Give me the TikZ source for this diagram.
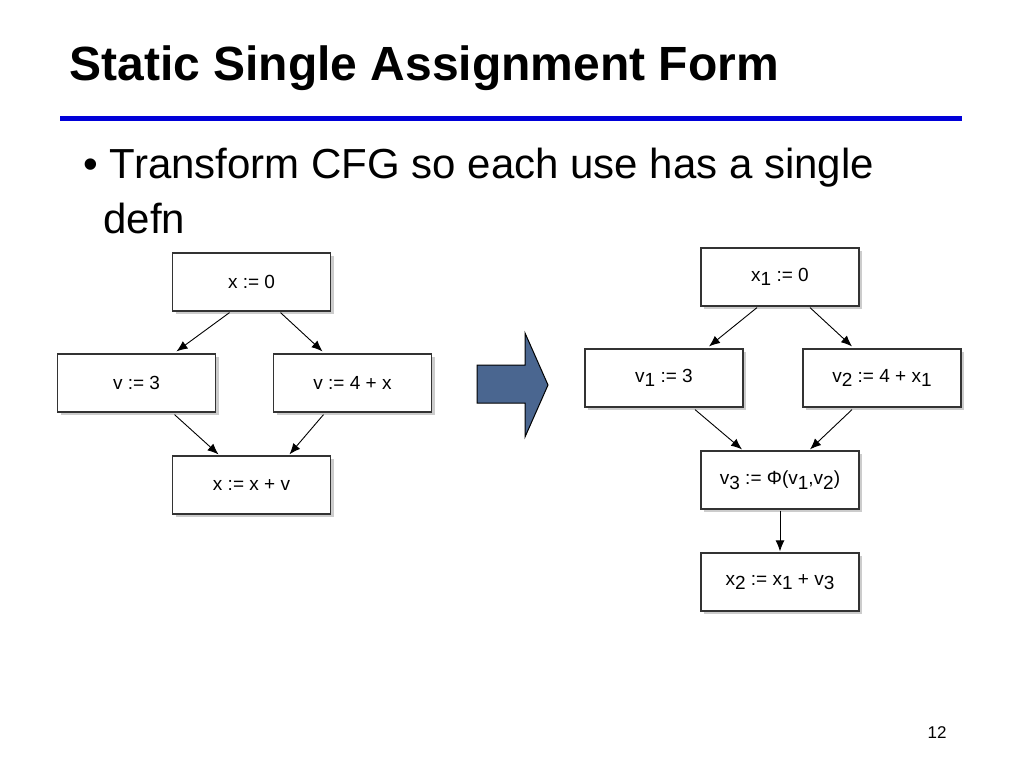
\documentclass[tikz,border=0pt]{standalone}
\usepackage{fontspec}
\setmainfont{Liberation Sans}
\usetikzlibrary{calc,shadows,arrows.meta}
\newcommand{\lowsub}[1]{\raisebox{-0.45ex}{#1}}
\begin{document}
\begin{tikzpicture}[x=1pt,y=-1pt,
  blk/.style={draw=black!80,line width=1.2pt,fill=white,minimum width=158pt,minimum height=58pt,
    font=\fontsize{19}{22}\selectfont,drop shadow={shadow xshift=3pt,shadow yshift=-3pt,fill=black!40}},
  arr/.style={-{Latex[length=11pt,width=9pt]},line width=0.9pt}]
\useasboundingbox (0,0) rectangle (1024,768);
\node[anchor=west,font=\fontsize{48}{52}\selectfont\bfseries] (title) at (66,68) {Static Single Assignment Form};
\draw[line width=5pt,color=blue!85!black] (60,118) -- (962,118);
\node[anchor=west,font=\fontsize{42}{48}\selectfont] (b1) at (80,168) {•\ Transform CFG so each use has a single};
\node[anchor=west,font=\fontsize{42}{48}\selectfont] (b2) at (100,218) {defn};
% left
\node[blk] (a) at (251.5,282) {x := 0};
\node[blk] (b) at (136.5,383) {v := 3};
\node[blk] (c) at (352.5,383) {v := 4 + x};
\node[blk] (d) at (251.5,485) {x := x + v};
\draw[arr] ($(a.south)+(-22,1)$) -- ($(b.north)+(40,-2)$);
\draw[arr] ($(a.south)+(29,1)$) -- ($(c.north)+(-30,-2)$);
\draw[arr] ($(b.south)+(38,2)$) -- ($(d.north)+(-33,-1)$);
\draw[arr] ($(c.south)+(-29,2)$) -- ($(d.north)+(38,-1)$);
% big arrow
\draw[line width=1pt,fill={rgb,255:red,74;green,102;blue,144}] (477,365) -- (525,365) -- (525,333) -- (548,385) -- (525,437) -- (525,403) -- (477,403) -- cycle;
% right
\node[blk] (e) at (780,277) {x\lowsub{1} := 0};
\node[blk] (f) at (664,378) {v\lowsub{1} := 3};
\node[blk] (g) at (882,378) {v\lowsub{2} := 4 + x\lowsub{1}};
\node[blk] (h) at (780,480) {v\lowsub{3} := Φ(v\lowsub{1},v\lowsub{2})};
\node[blk] (i) at (780,582) {x\lowsub{2} := x\lowsub{1} + v\lowsub{3}};
\draw[arr] ($(e.south)+(-23,1)$) -- ($(f.north)+(45,-2)$);
\draw[arr] ($(e.south)+(30,1)$) -- ($(g.north)+(-30,-2)$);
\draw[arr] ($(f.south)+(31,2)$) -- ($(h.north)+(-38,-1)$);
\draw[arr] ($(g.south)+(-30,2)$) -- ($(h.north)+(30,-1)$);
\draw[arr] ($(h.south)+(0,1)$) -- ($(i.north)+(0,-1)$);
\node[font=\fontsize{17}{20}\selectfont] (pg) at (937,733) {12};
\end{tikzpicture}
\end{document}
